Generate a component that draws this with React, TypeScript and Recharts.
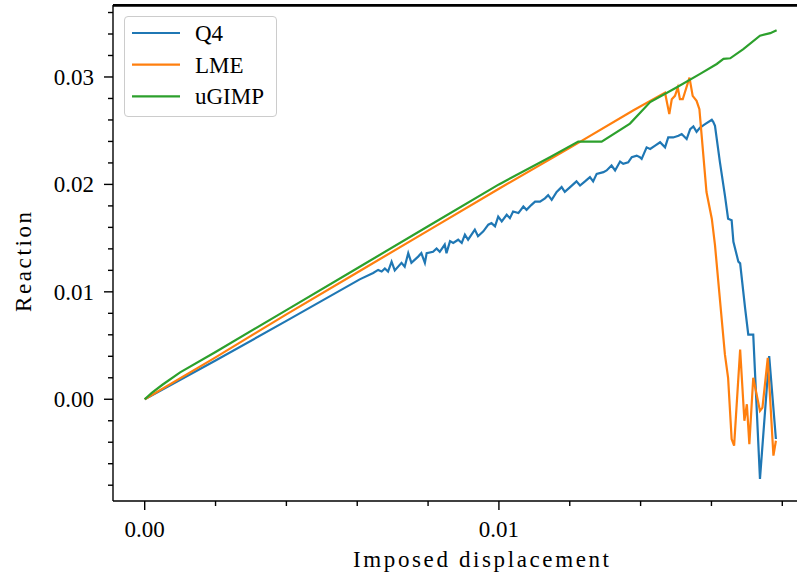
import {LineChart, Line, XAxis, YAxis, Label, ReferenceLine} from "recharts";

// imposed displacement / reaction pairs
const q4Points: [number, number][] = [
    [0, 0], [0.002, 0.0036], [0.004, 0.0073], [0.00607, 0.01116], [0.00645, 0.01176],
    [0.00659, 0.01204], [0.00669, 0.01189], [0.00678, 0.01218], [0.00687, 0.01189], [0.00697, 0.01281],
    [0.00706, 0.01199], [0.00725, 0.0127], [0.00734, 0.01234], [0.00744, 0.0136], [0.00753, 0.0127],
    [0.00772, 0.01328], [0.00781, 0.0136], [0.00791, 0.0127], [0.00796, 0.0136], [0.00814, 0.01373],
    [0.00824, 0.01404], [0.00833, 0.01373], [0.00847, 0.0144], [0.00852, 0.0136], [0.00862, 0.01472],
    [0.00871, 0.01455], [0.00885, 0.01485], [0.00895, 0.01455], [0.00904, 0.01532], [0.00913, 0.01485],
    [0.00932, 0.01579], [0.00941, 0.01517], [0.00956, 0.01563], [0.0097, 0.01625], [0.00979, 0.0164],
    [0.00989, 0.0161], [0.00998, 0.017], [0.01008, 0.01655], [0.01022, 0.01717], [0.01031, 0.01686],
    [0.0104, 0.01748], [0.01055, 0.01733], [0.01069, 0.01794], [0.01078, 0.01763], [0.01092, 0.0181],
    [0.01102, 0.0184], [0.01116, 0.0184], [0.0113, 0.0187], [0.01139, 0.019], [0.01149, 0.01856],
    [0.01163, 0.0193], [0.01177, 0.01975], [0.01186, 0.0193], [0.01201, 0.01975], [0.01219, 0.02028],
    [0.01229, 0.0199], [0.01243, 0.02028], [0.01257, 0.02068], [0.01266, 0.02028], [0.01276, 0.02098],
    [0.01295, 0.02114], [0.01304, 0.0213], [0.01318, 0.02176], [0.01328, 0.0213], [0.01342, 0.02213],
    [0.01351, 0.02191], [0.01365, 0.02206], [0.01375, 0.02253], [0.01389, 0.02268], [0.01398, 0.02253],
    [0.01403, 0.02237], [0.01417, 0.02345], [0.01427, 0.0233], [0.01441, 0.02361], [0.01455, 0.02392],
    [0.01469, 0.02345], [0.01478, 0.02437], [0.01492, 0.02437], [0.01507, 0.02453], [0.01516, 0.02469],
    [0.0153, 0.02422], [0.0154, 0.02515], [0.01549, 0.0254], [0.01558, 0.0249], [0.01568, 0.0253],
    [0.01582, 0.02561], [0.01601, 0.02602], [0.01605, 0.02583], [0.0161, 0.02546], [0.01624, 0.02206],
    [0.01638, 0.01898], [0.01647, 0.01681], [0.01657, 0.01667], [0.01662, 0.01466], [0.01676, 0.01281],
    [0.01681, 0.01265], [0.01695, 0.00848], [0.01704, 0.00602], [0.01718, 0.00602], [0.01737, -0.00741],
    [0.01763, 0.00401], [0.01782, -0.0037],
];

const lmePoints: [number, number][] = [
    [0, 0], [0.002, 0.0039], [0.004, 0.0079], [0.006, 0.0118], [0.008, 0.0157], [0.01, 0.0196],
    [0.012, 0.0234], [0.0138, 0.0269], [0.01469, 0.02854], [0.01481, 0.02654], [0.01488, 0.02793],
    [0.01497, 0.02824], [0.01505, 0.02901], [0.01511, 0.02793], [0.01519, 0.02793], [0.01538, 0.02994],
    [0.01547, 0.02824], [0.01558, 0.02778], [0.01566, 0.027], [0.01586, 0.01929], [0.01601, 0.01681],
    [0.0161, 0.01435], [0.01638, 0.00417], [0.01647, 0.002], [0.01657, -0.0037], [0.01664, -0.00432],
    [0.01681, 0.00463], [0.01693, -0.002], [0.017, -0.00046], [0.01707, -0.00417], [0.01718, 0.002],
    [0.01737, -0.00108], [0.01744, -0.00078], [0.01759, 0.00385], [0.01775, -0.00525], [0.01782, -0.00386],
];

const ugimpPoints: [number, number][] = [
    [0, 0], [0.0002, 0.0006], [0.0005, 0.00135], [0.001, 0.0025], [0.002, 0.0044], [0.004, 0.0083],
    [0.006, 0.0122], [0.008, 0.0161], [0.01, 0.02], [0.01144, 0.02253], [0.01224, 0.02398],
    [0.0129, 0.02398], [0.0137, 0.02566], [0.01427, 0.02766], [0.015, 0.029], [0.01568, 0.03029],
    [0.01615, 0.03121], [0.01634, 0.03168], [0.01653, 0.03174], [0.0169, 0.0326], [0.01737, 0.03384],
    [0.01766, 0.03408], [0.01784, 0.03435],
];

const seriesNames = ["Q4", "LME", "uGIMP"];
const seriesColors = ["#1f77b4", "#ff7f0e", "#2ca02c"];
const seriesPoints = [q4Points, lmePoints, ugimpPoints];

const xTicks = [0, 0.002, 0.004, 0.006, 0.008, 0.01, 0.012, 0.014, 0.016, 0.018];
const yTicks = [-0.008, -0.006, -0.004, -0.002, 0, 0.002, 0.004, 0.006, 0.008, 0.01, 0.012, 0.014,
    0.016, 0.018, 0.02, 0.022, 0.024, 0.026, 0.028, 0.03, 0.032, 0.034, 0.036];

const X_DOMAIN: [number, number] = [-0.000895, 0.0185];
const Y_DOMAIN: [number, number] = [-0.00947, 0.0367];

const FONT = "'Liberation Serif', 'DejaVu Serif', serif";

const toRows = (pts: [number, number][]) => pts.map(([x, y]) => ({x, y}));

const isMajor = (v: number) => Math.abs(v / 0.01 - Math.round(v / 0.01)) < 1e-6;

interface TickProps {
    x?: number;
    y?: number;
    payload?: {value: number};
}

const XTick = ({x = 0, y = 0, payload}: TickProps) => {
    const v = payload?.value ?? 0;
    const major = isMajor(v);
    return (
        <g>
            <line x1={x} x2={x} y1={y} y2={y + (major ? 9 : 5)} stroke="#000" strokeWidth={1.4}/>
            {major && (
                <text x={x} y={y + 36} textAnchor="middle" fontFamily={FONT} fontSize={23} fill="#000">
                    {v.toFixed(2)}
                </text>
            )}
        </g>
    );
};

const YTick = ({x = 0, y = 0, payload}: TickProps) => {
    const v = payload?.value ?? 0;
    const major = isMajor(v);
    return (
        <g>
            <line x1={x} x2={x - (major ? 9 : 5)} y1={y} y2={y} stroke="#000" strokeWidth={1.4}/>
            {major && (
                <text x={x - 19} y={y + 8} textAnchor="end" fontFamily={FONT} fontSize={23} fill="#000">
                    {Math.abs(v) < 1e-9 ? "0.00" : v.toFixed(2)}
                </text>
            )}
        </g>
    );
};

// matplotlib-style legend box in the upper left corner
const LegendBox = () => (
    <div style={{
        position: "absolute", left: 124, top: 16, width: 153, height: 101, boxSizing: "border-box",
        border: "1px solid #cccccc", borderRadius: 4, background: "rgba(255,255,255,0.8)"
    }}>
        <svg width={151} height={99} style={{display: "block"}}>
            {seriesNames.map((name, i) => (
                <g key={`leg-${name}`}>
                    <line x1={7} x2={55} y1={16 + i * 31.7} y2={16 + i * 31.7} stroke={seriesColors[i]}
                          strokeWidth={2.2}/>
                    <text x={70} y={24 + i * 31.7} fontFamily={FONT} fontSize={23} fill="#000">{name}</text>
                </g>
            ))}
        </svg>
    </div>
);

export default function App() {
    return (
        <div style={{
            position: "absolute", left: 0, top: 0, width: 797, height: 576, overflow: "hidden",
            background: "#fff"
        }}>
            <LineChart width={812} height={576} margin={{top: 5, right: 12, bottom: 0, left: 0}}>
                <XAxis
                    type="number"
                    dataKey="x"
                    domain={X_DOMAIN}
                    allowDataOverflow
                    ticks={xTicks}
                    interval={0}
                    tick={<XTick/>}
                    tickLine={false}
                    tickSize={0}
                    tickMargin={0}
                    height={75}
                    axisLine={{stroke: "#000", strokeWidth: 1.4}}
                >
                    <Label
                        content={() => (
                            <text x={481} y={567} textAnchor="middle" fontFamily={FONT} fontSize={23} fill="#000"
                                  textLength={256} lengthAdjust="spacing">
                                Imposed displacement
                            </text>
                        )}
                    />
                </XAxis>
                <YAxis
                    type="number"
                    domain={Y_DOMAIN}
                    allowDataOverflow
                    ticks={yTicks}
                    interval={0}
                    tick={<YTick/>}
                    tickLine={false}
                    tickSize={0}
                    tickMargin={0}
                    width={113}
                    axisLine={{stroke: "#000", strokeWidth: 1.4}}
                >
                    <Label
                        content={() => (
                            <text x={31} y={262} transform="rotate(-90 31 262)" textAnchor="middle"
                                  fontFamily={FONT} fontSize={23} fill="#000" textLength={100}
                                  lengthAdjust="spacing">
                                Reaction
                            </text>
                        )}
                    />
                </YAxis>
                {seriesNames.map((name, i) => (
                    <Line
                        key={name}
                        data={toRows(seriesPoints[i])}
                        dataKey="y"
                        name={name}
                        stroke={seriesColors[i]}
                        strokeWidth={2.2}
                        dot={false}
                        type="linear"
                        isAnimationActive={false}
                    />
                ))}
                {/* top spine of the axes frame */}
                <ReferenceLine y={0.03664} stroke="#000" strokeWidth={2}/>
            </LineChart>
            <div style={{
                position: "absolute", left: 113, top: 4, width: 700, height: 0,
                borderTop: "2px solid #000"
            }}/>
            <LegendBox/>
        </div>
    );
}
